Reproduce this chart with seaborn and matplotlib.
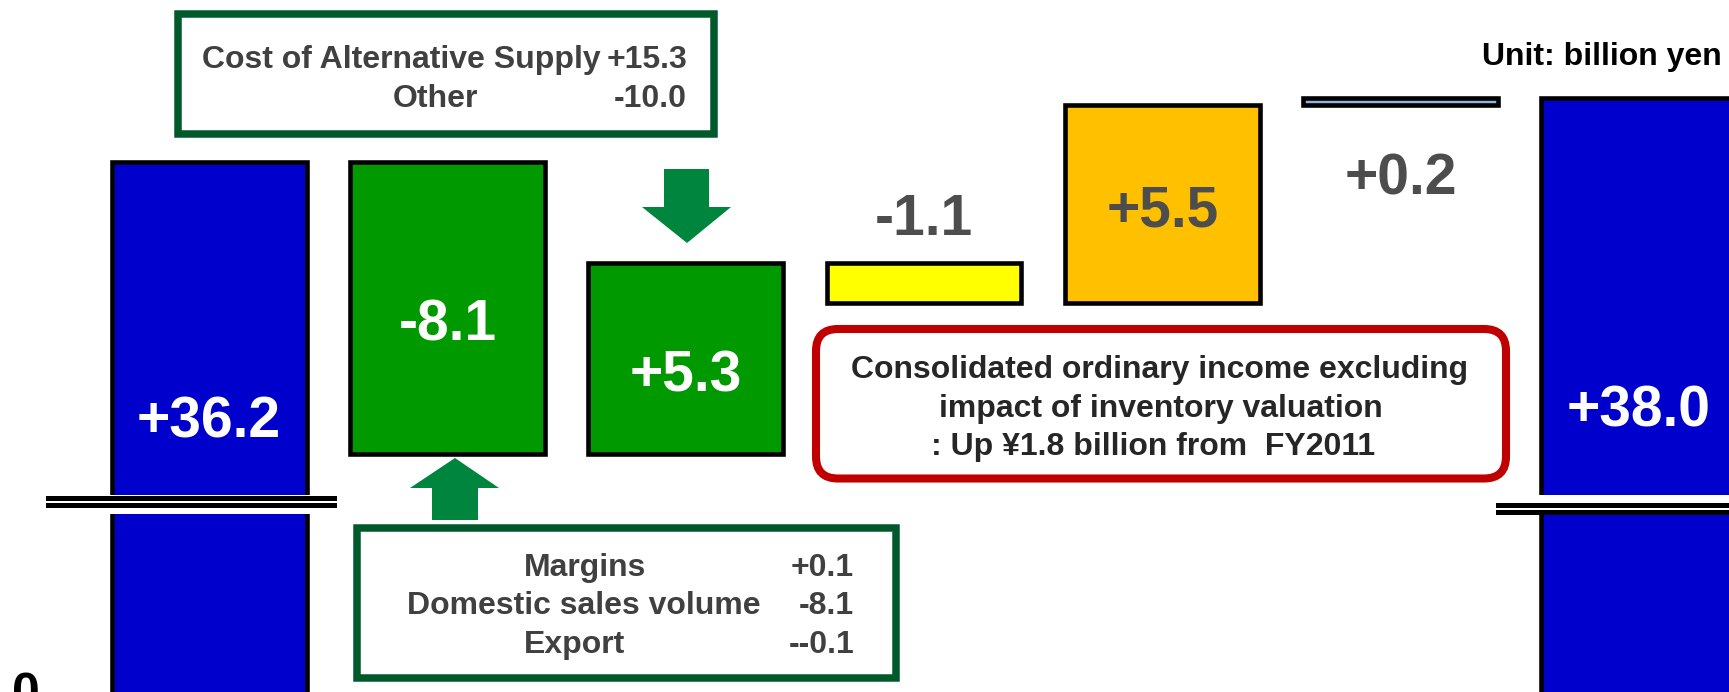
import numpy as np
import pandas as pd
import matplotlib
matplotlib.use("Agg")
import matplotlib.pyplot as plt
import matplotlib.transforms as mtransforms
from matplotlib.patches import Polygon, FancyBboxPatch
import seaborn as sns

# ---------------- data ----------------
steps = ["FY2011", "Sales volume & margins", "Cost of supply & other",
         "Item 4", "Item 5", "Item 6", "FY2012"]
changes = [36.2, -8.1, 5.3, -1.1, 5.5, 0.2, 38.0]
is_total = [True, False, False, False, False, False, True]
bar_colors = ["#0000CC", "#009900", "#009900", "#FFFF00", "#FFC000", "#8DB4E2", "#0000CC"]
label_colors = ["white", "white", "white", "#4D4D4D", "#4D4D4D", "#4D4D4D", "white"]

top_box_items = ["Cost of Alternative Supply", "Other"]
top_box_values = ["+15.3", "-10.0"]
bottom_box_items = ["Margins", "Domestic sales volume", "Export"]
bottom_box_values = ["+0.1", "-8.1", "--0.1"]
callout_lines = ["Consolidated ordinary income excluding",
                 "impact of inventory valuation",
                 ": Up \u00a51.8 billion from  FY2011"]
unit_text = "Unit: billion yen"
zero_label = "0"

# ---------------- waterfall geometry from data ----------------
lows, highs = [], []
level = 0.0
for v, tot in zip(changes, is_total):
    if tot:
        lo, hi = 0.0, v
        level = v
    else:
        lo, hi = sorted([level, level + v])
        level = level + v
    lows.append(round(lo, 3))
    highs.append(round(hi, 3))
df = pd.DataFrame({"step": steps,
                   "height": np.array(highs) - np.array(lows),
                   "bottom": lows})

# ---------------- style ----------------
sns.set_style("white")
plt.rcParams["font.family"] = ["Liberation Sans", "DejaVu Sans"]
plt.rcParams["font.weight"] = "bold"

W, H = 1729, 692
fig = plt.figure(figsize=(W / 100, H / 100), dpi=100)
fig.patch.set_facecolor("white")
PX = mtransforms.Affine2D().scale(1, -1).translate(0, H)

upper_bottom_px, lower_top_px = 495, 514
ax_top = fig.add_axes([0, 1 - upper_bottom_px / H, 1, upper_bottom_px / H])
ax_bot = fig.add_axes([0, 0, 1, 1 - lower_top_px / H])

for ax in (ax_top, ax_bot):
    sns.barplot(data=df, x="step", y="height", order=steps,
                color=bar_colors[0], saturation=1,
                bottom=df["bottom"].to_numpy(), width=0.818, errorbar=None,
                edgecolor="black", linewidth=3.3, ax=ax)
    for p, c in zip(ax.patches, bar_colors):
        p.set_facecolor(c)
    ax.set_xlim(-0.8775, 6.378)
    ax.axis("off")

ax_top.set_ylim(26.969, 40.711)
ax_bot.set_ylim(0.1388, 5.081)

# value labels
label_y = [28.57, 31.27, 29.83, 34.19, 34.41, 35.30, 28.86]
for i, (v, y, c) in enumerate(zip(changes, label_y, label_colors)):
    ax_top.text(i, y, f"{v:+.1f}", ha="center", va="baseline", color=c,
                fontsize=41, fontweight="bold")

# zero label at the baseline of the lower panel
blend = mtransforms.blended_transform_factory(ax_bot.transAxes, ax_bot.transData)
ax_bot.annotate(zero_label, xy=(26 / W, 0), xycoords=blend, xytext=(0, -11),
                textcoords="offset pixels", ha="center", va="baseline",
                fontsize=36, fontweight="bold", color="black",
                annotation_clip=False)


def rect(x0, y0, x1, y1, **kw):
    return Polygon([(x0, y0), (x1, y0), (x1, y1), (x0, y1)], closed=True,
                   transform=PX, **kw)


# axis-break marks
for (x0, x1, ys) in [(46, 337, [(496, 500.7), (503, 507.7)]),
                     (1496, 1729, [(502.7, 508), (510, 515)])]:
    for (y0, y1) in ys:
        fig.add_artist(rect(x0, y0, x1, y1, facecolor="black", edgecolor="none"))

# arrows
arrow_green = "#00853E"
fig.add_artist(Polygon([(455, 458), (499, 488), (478, 488), (478, 520),
                        (432, 520), (432, 488), (410, 488)], closed=True,
                       transform=PX, facecolor=arrow_green, edgecolor="none"))
fig.add_artist(Polygon([(687, 243), (731, 207), (709, 207), (709, 169),
                        (664, 169), (664, 207), (642, 207)], closed=True,
                       transform=PX, facecolor=arrow_green, edgecolor="none"))

# boxes
box_green = "#00592B"
fig.add_artist(rect(177.6, 13.7, 714.3, 134.2, facecolor="white",
                    edgecolor=box_green, linewidth=5.4))
fig.add_artist(rect(356.7, 527.9, 895.8, 677.5, facecolor="white",
                    edgecolor=box_green, linewidth=5.4))
fig.add_artist(FancyBboxPatch((816, 329), 690, 149.5,
                              boxstyle="round,pad=0,rounding_size=22",
                              transform=PX, facecolor="white",
                              edgecolor="#C00000", linewidth=5.8))

grey = "#404040"
tk = dict(transform=PX, fontsize=23, fontweight="bold", va="baseline")
# top box
fig.text(202, 68, top_box_items[0], ha="left", color=grey, **tk)
fig.text(435, 107, top_box_items[1], ha="center", color=grey, **tk)
for v, yb in zip(top_box_values, [68, 107]):
    fig.text(687, yb, v, ha="right", color=grey, **tk)

# bottom box
for item, v, xc, yb in zip(bottom_box_items, bottom_box_values,
                           [585, 584, 575], [576, 614, 653]):
    fig.text(xc, yb, item, ha="center", color=grey, **tk)
    fig.text(854, yb, v, ha="right", color=grey, **tk)

# callout
for line, xc, yb in zip(callout_lines, [1160, 1161, 1153], [378, 416.5, 455]):
    fig.text(xc, yb, line, ha="center", color="#262626", **tk)

# unit
fig.text(1482, 65, unit_text, ha="left", color="black", **tk)

fig.savefig("out.png", dpi=100, facecolor="white")
